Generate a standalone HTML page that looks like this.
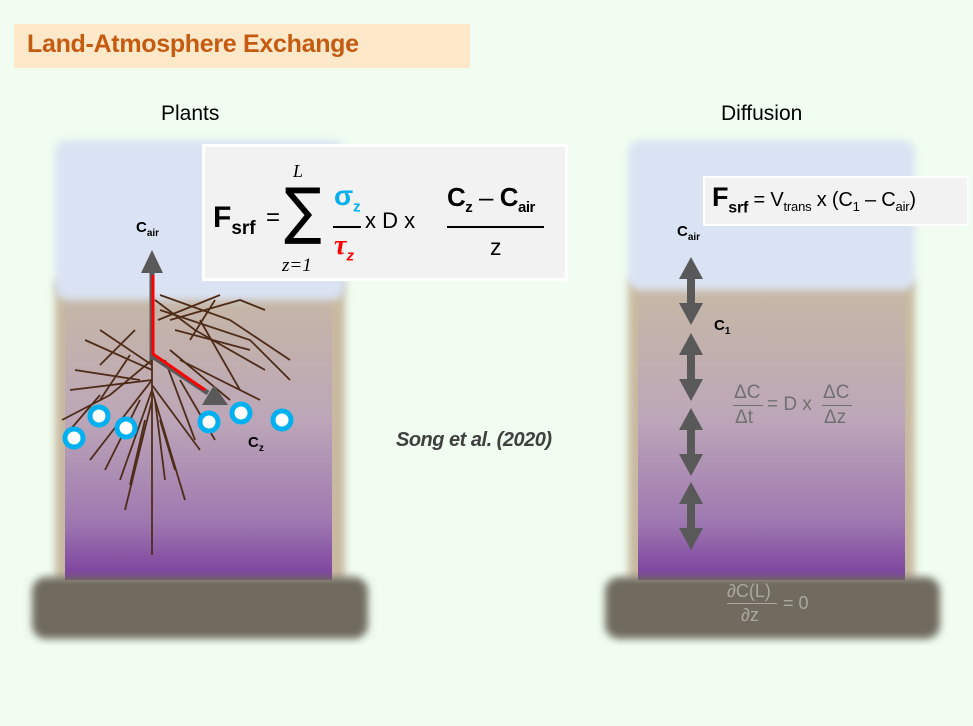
<!DOCTYPE html>
<html><head><meta charset="utf-8"><style>
body{margin:0;width:973px;height:726px;background:#f0fdf0;position:relative;overflow:hidden;font-family:"Liberation Sans","DejaVu Sans",sans-serif}
.a{position:absolute;line-height:1;white-space:nowrap}
sub{line-height:0}
</style></head><body>
<div class="a" style="left:14px;top:24px;width:456px;height:44px;background:#fde9c9"></div>
<div class="a" style="left:27px;top:32px;font-size:25px;font-weight:bold;color:#c55a11;letter-spacing:-0.3px">Land-Atmosphere Exchange</div>
<div class="a" style="left:161px;top:103px;font-size:21px">Plants</div>
<div class="a" style="left:721px;top:103px;font-size:21px">Diffusion</div>
<svg class="a" style="left:0;top:0" width="973" height="726">
<defs>
<filter id="bl" x="-10%" y="-10%" width="120%" height="120%"><feGaussianBlur stdDeviation="4"/></filter>
<linearGradient id="soil" x1="0" y1="0" x2="0" y2="1"><stop offset="0" stop-color="#c6b8a5"/><stop offset="0.45" stop-color="#bca6b8"/><stop offset="0.8" stop-color="#9e78b0"/><stop offset="1" stop-color="#7a3f9e"/></linearGradient>
</defs>
<g>
<rect x="55" y="280" width="290" height="300" fill="#c8b9a0" filter="url(#bl)"/>
<rect x="65" y="290" width="267" height="290" fill="url(#soil)"/>
<rect x="55" y="140" width="290" height="160" rx="12" fill="#dae3f3" filter="url(#bl)"/>
<rect x="32" y="577" width="336" height="62" rx="14" fill="#6f6a5f" filter="url(#bl)"/>
</g>
<g>
<rect x="628" y="280" width="287" height="300" fill="#c8b9a0" filter="url(#bl)"/>
<rect x="638" y="290" width="267" height="290" fill="url(#soil)"/>
<rect x="628" y="140" width="287" height="150" rx="12" fill="#dae3f3" filter="url(#bl)"/>
<rect x="605" y="577" width="335" height="62" rx="14" fill="#6f6a5f" filter="url(#bl)"/>
</g>
<g stroke="#4e2c18" stroke-width="1.8" fill="none">
<path d="M152 290 L152 555"/><path d="M152 360 L110 395 L62 420"/><path d="M152 370 L85 340"/><path d="M152 365 L100 330"/>
<path d="M155 300 L195 330 L265 370"/><path d="M160 295 L230 320 L290 360"/><path d="M158 320 L220 295"/><path d="M152 380 L70 390"/>
<path d="M152 380 L90 460"/><path d="M152 390 L120 480"/><path d="M152 385 L200 450"/><path d="M170 350 L230 400"/><path d="M165 360 L195 440"/>
<path d="M152 400 L125 510"/><path d="M152 390 L185 500"/><path d="M175 330 L250 350"/><path d="M100 365 L135 330"/><path d="M200 320 L240 390"/>
<path d="M130 355 L100 400"/><path d="M180 360 L260 400"/><path d="M140 400 L105 470"/>
<path d="M160 310 L250 340 L290 380"/><path d="M170 320 L240 300 L265 310"/><path d="M75 370 L140 380"/><path d="M155 400 L165 480"/>
<path d="M145 420 L130 485"/><path d="M160 420 L175 470"/><path d="M190 340 L215 300"/><path d="M100 395 L70 430"/><path d="M180 380 L215 440"/>
</g>
<g>
<line x1="152" y1="360" x2="152" y2="270" stroke="#595959" stroke-width="5"/>
<polygon points="152,250 141,273 163,273" fill="#595959"/>
<polyline points="152,356 208,393" stroke="#595959" stroke-width="5" fill="none"/>
<polygon points="228,405 202,405 214,385" fill="#595959"/>
<polyline points="153,275 153,354 205,390" stroke="#f00" stroke-width="3" fill="none"/>
</g>
<g fill="#fff" stroke="#00b0f0" stroke-width="5">
<circle cx="74" cy="438" r="9"/><circle cx="99" cy="416" r="9"/><circle cx="126" cy="428" r="9"/>
<circle cx="209" cy="422" r="9"/><circle cx="241" cy="413" r="9"/><circle cx="282" cy="420" r="9"/>
</g>
<g fill="#595959">
<path d="M691 257 l-12 22 h8 v24 h-8 l12 22 l12 -22 h-8 v-24 h8 z"/>
<path d="M691 333 l-12 22 h8 v24 h-8 l12 22 l12 -22 h-8 v-24 h8 z"/>
<path d="M691 408 l-12 22 h8 v24 h-8 l12 22 l12 -22 h-8 v-24 h8 z"/>
<path d="M691 482 l-12 22 h8 v24 h-8 l12 22 l12 -22 h-8 v-24 h8 z"/>
</g>
</svg>
<div class="a" style="left:136px;top:220px;font-size:15px;font-weight:bold">C<sub style="font-size:10px">air</sub></div>
<div class="a" style="left:248px;top:435px;font-size:15px;font-weight:bold">C<sub style="font-size:10px">z</sub></div>
<div class="a" style="left:202px;top:144px;width:360px;height:131px;background:#f2f2f2;border:3px solid #fff"></div>
<div class="a" style="left:202px;top:144px;width:366px;height:137px">
 <span class="a" style="left:11px;top:59px;font-size:30px;font-weight:bold">F<sub style="font-size:19px">srf</sub></span>
 <span class="a" style="left:64px;top:62px;font-size:24px">=</span>
 <span class="a" style="left:91px;top:18px;font-size:18px;font-style:italic;font-family:'Liberation Serif',serif">L</span>
 <span class="a" style="left:80px;top:36px;font-size:62px;font-family:'DejaVu Sans',sans-serif;transform:scaleX(0.9)">∑</span>
 <span class="a" style="left:80px;top:112px;font-size:19px;font-style:italic;font-family:'Liberation Serif',serif">z=1</span>
 <span class="a" style="left:132px;top:38px;font-size:28px;font-weight:bold;color:#00b0f0">σ<sub style="font-size:15px">z</sub></span>
 <span class="a" style="left:131px;top:82px;width:28px;border-top:2px solid #000"></span>
 <span class="a" style="left:132px;top:88px;font-size:28px;font-weight:bold;font-style:italic;color:#f00;font-family:'Liberation Serif',serif">τ<sub style="font-size:15px;font-family:'Liberation Sans',sans-serif">z</sub></span>
 <span class="a" style="left:163px;top:66px;font-size:22px">x D x</span>
 <span class="a" style="left:245px;top:40px;font-size:26px;font-weight:bold;letter-spacing:-0.5px">C<sub style="font-size:15px">z</sub> <span style="font-weight:normal">–</span> C<sub style="font-size:15px">air</sub></span>
 <span class="a" style="left:245px;top:82px;width:97px;border-top:2px solid #000"></span>
 <span class="a" style="left:288px;top:92px;font-size:23px">z</span>
</div>
<div class="a" style="left:396px;top:430px;font-size:20px;font-weight:bold;font-style:italic;color:#404040;letter-spacing:-0.5px">Song et al. (2020)</div>
<div class="a" style="left:703px;top:176px;width:262px;height:46px;background:#f2f2f2;border:2px solid #fff"></div>
<div class="a" style="left:712px;top:184px;font-size:20px;letter-spacing:-0.2px"><b style="font-size:27px">F<sub style="font-size:16px">srf</sub></b> = V<sub style="font-size:13px">trans</sub> x (C<sub style="font-size:13px">1</sub> – C<sub style="font-size:13px">air</sub>)</div>
<div class="a" style="left:677px;top:224px;font-size:15px;font-weight:bold">C<sub style="font-size:10px">air</sub></div>
<div class="a" style="left:714px;top:318px;font-size:15px;font-weight:bold">C<sub style="font-size:10px">1</sub></div>
<div class="a" style="left:733px;top:383px;width:130px;height:60px;color:#707070;font-size:19px">
 <span class="a" style="left:1px;top:0">ΔC</span><span class="a" style="left:0;top:22px;width:30px;border-top:1.5px solid #707070"></span><span class="a" style="left:2px;top:25px">Δt</span>
 <span class="a" style="left:34px;top:12px">= D x</span>
 <span class="a" style="left:90px;top:0">ΔC</span><span class="a" style="left:89px;top:22px;width:30px;border-top:1.5px solid #707070"></span><span class="a" style="left:91px;top:25px">Δz</span>
</div>
<div class="a" style="left:727px;top:582px;width:100px;height:55px;color:#a8a8a0;font-size:18px">
 <span class="a" style="left:0;top:0">∂C(L)</span><span class="a" style="left:0;top:21px;width:50px;border-top:1.5px solid #a8a8a0"></span><span class="a" style="left:14px;top:24px">∂z</span>
 <span class="a" style="left:56px;top:12px">= 0</span>
</div>
</body></html>
